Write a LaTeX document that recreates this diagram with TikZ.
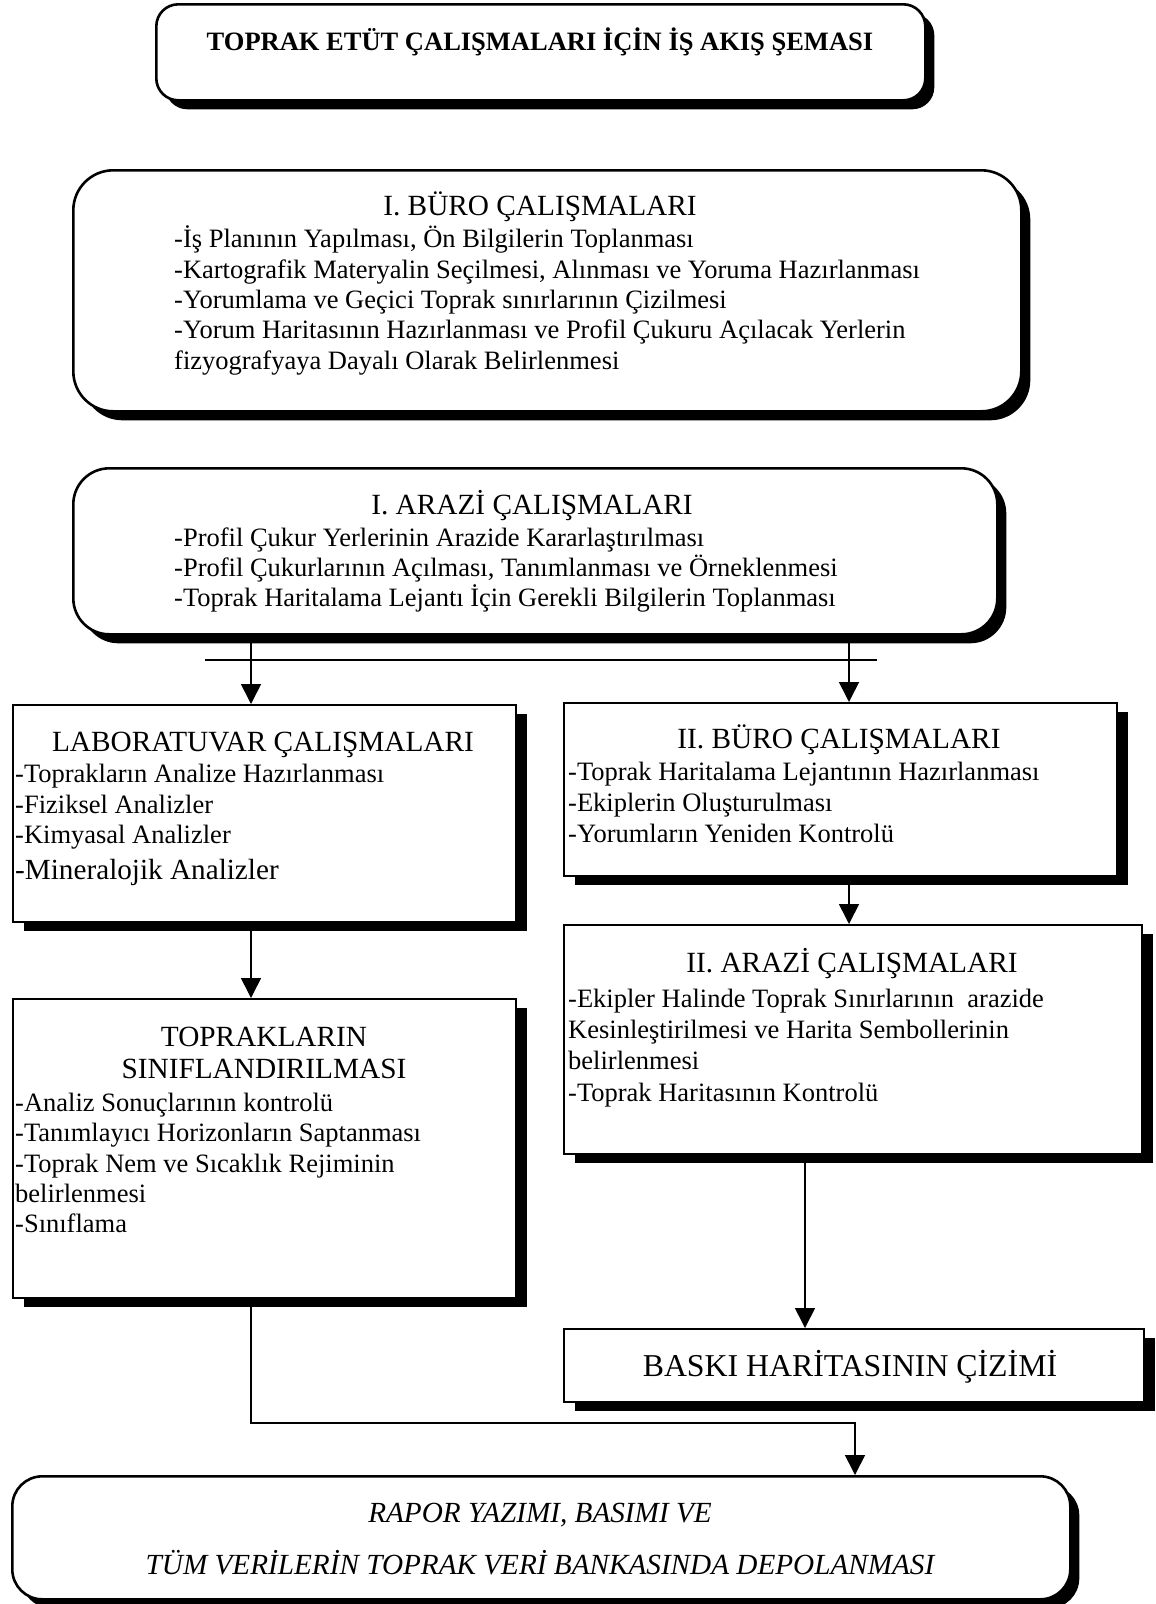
\documentclass[tikz,border=0pt]{standalone}
\usepackage{fontspec}
\setmainfont{Liberation Serif}
\usetikzlibrary{arrows.meta,shadows}
\begin{document}
\begin{tikzpicture}[x=1pt,y=-1pt,
  rbox/.style={draw, line width=2.6pt, fill=white, anchor=north west, inner sep=0pt,
    drop shadow={fill=black, opacity=1, shadow xshift=9pt, shadow yshift=-9pt}},
  sbox/.style={draw, line width=1.8pt, fill=white, anchor=north west, inner sep=0pt,
    drop shadow={fill=black, opacity=1, shadow xshift=11pt, shadow yshift=-9pt}},
  arr/.style={line width=1.6pt, -{Triangle[width=20pt,length=20pt]}},
  conn/.style={line width=1.6pt},
  txt/.style={inner sep=0pt, anchor=base west, font=\fontsize{26.5}{30.5}\selectfont},
  hd/.style={inner sep=0pt, anchor=base, font=\fontsize{29.3}{33}\selectfont},
]
\useasboundingbox (0,0) rectangle (1156,1604);

% boxes
\node[rbox, rounded corners=22pt, minimum width=769pt, minimum height=96pt] (title) at (155,3) {};
\node[rbox, rounded corners=40pt, minimum width=948pt, minimum height=241pt] (buro1) at (72,169) {};
\node[rbox, rounded corners=36pt, minimum width=924pt, minimum height=166pt] (arazi1) at (72,467) {};
\node[sbox, minimum width=503pt, minimum height=217pt] (lab) at (12,704) {};
\node[sbox, minimum width=553pt, minimum height=173pt] (buro2) at (563,702) {};
\node[sbox, minimum width=578pt, minimum height=229pt] (arazi2) at (563,924) {};
\node[sbox, minimum width=503pt, minimum height=299pt] (toprak) at (12,998) {};
\node[sbox, minimum width=580pt, minimum height=73pt] (baski) at (563,1328) {};
\node[rbox, rounded corners=30pt, minimum width=1058pt, minimum height=123pt] (rapor) at (11,1475) {};

% texts
\node[hd, font=\bfseries\fontsize{26.5}{30}\selectfont] (t0) at (540,50) {TOPRAK ETÜT ÇALIŞMALARI İÇİN İŞ AKIŞ ŞEMASI};

\node[hd] (b1h) at (540,215) {I. BÜRO ÇALIŞMALARI};
\node[txt] (b1a) at (174,247) {-İş Planının Yapılması, Ön Bilgilerin Toplanması};
\node[txt] (b1b) at (174,278) {-Kartografik Materyalin Seçilmesi, Alınması ve Yoruma Hazırlanması};
\node[txt] (b1c) at (174,308) {-Yorumlama ve Geçici Toprak sınırlarının Çizilmesi};
\node[txt] (b1d) at (174,338) {-Yorum Haritasının Hazırlanması ve Profil Çukuru Açılacak Yerlerin};
\node[txt] (b1e) at (174,369) {fizyografyaya Dayalı Olarak Belirlenmesi};

\node[hd] (a1h) at (532,514) {I. ARAZİ ÇALIŞMALARI};
\node[txt] (a1a) at (174,546) {-Profil Çukur Yerlerinin Arazide Kararlaştırılması};
\node[txt] (a1b) at (174,576) {-Profil Çukurlarının Açılması, Tanımlanması ve Örneklenmesi};
\node[txt] (a1c) at (174,606) {-Toprak Haritalama Lejantı İçin Gerekli Bilgilerin Toplanması};

\node[hd] (lh) at (263,751) {LABORATUVAR ÇALIŞMALARI};
\node[txt] (la1) at (15,782) {-Toprakların Analize Hazırlanması};
\node[txt] (la2) at (15,813) {-Fiziksel Analizler};
\node[txt] (la3) at (15,843) {-Kimyasal Analizler};
\node[txt, font=\fontsize{29.2}{33}\selectfont] (la4) at (15,879) {-Mineralojik Analizler};

\node[hd] (b2h) at (839,748) {II. BÜRO ÇALIŞMALARI};
\node[txt] (b2a) at (568,780) {-Toprak Haritalama Lejantının Hazırlanması};
\node[txt] (b2b) at (568,811) {-Ekiplerin Oluşturulması};
\node[txt] (b2c) at (568,842) {-Yorumların Yeniden Kontrolü};

\node[hd] (a2h) at (852,972) {II. ARAZİ ÇALIŞMALARI};
\node[txt] (a2a) at (568,1007) {-Ekipler Halinde Toprak Sınırlarının~ arazide};
\node[txt] (a2b) at (568,1038) {Kesinleştirilmesi ve Harita Sembollerinin};
\node[txt] (a2c) at (568,1069) {belirlenmesi};
\node[txt] (a2d) at (568,1101) {-Toprak Haritasının Kontrolü};

\node[hd] (th1) at (264,1046) {TOPRAKLARIN};
\node[hd] (th2) at (264,1078) {SINIFLANDIRILMASI};
\node[txt] (ta1) at (15,1111) {-Analiz Sonuçlarının kontrolü};
\node[txt] (ta2) at (15,1141) {-Tanımlayıcı Horizonların Saptanması};
\node[txt] (ta3) at (15,1172) {-Toprak Nem ve Sıcaklık Rejiminin};
\node[txt] (ta4) at (15,1202) {belirlenmesi};
\node[txt] (ta5) at (15,1232) {-Sınıflama};

\node[hd, font=\fontsize{31.8}{36}\selectfont] (bk) at (850,1376) {BASKI HARİTASININ ÇİZİMİ};

\node[hd, font=\itshape\fontsize{29.2}{33}\selectfont] (r1) at (540,1522) {RAPOR YAZIMI, BASIMI VE};
\node[hd, font=\itshape\fontsize{29.2}{33}\selectfont] (r2) at (540,1574) {TÜM VERİLERİN TOPRAK VERİ BANKASINDA DEPOLANMASI};

% connectors
\coordinate (xa) at (251,0);
\coordinate (xb) at (849,0);
\coordinate (xc) at (805,0);
\coordinate (xd) at (855,0);
\coordinate (hl) at (205,660);
\coordinate (hr) at (877,660);
\coordinate (bend) at (251,1423);
\draw[conn] (hl) -- (hr);
\draw[arr] (arazi1.south -| xa) -- (lab.north -| xa);
\draw[arr] (arazi1.south -| xb) -- (buro2.north -| xb);
\draw[arr] (lab.south -| xa) -- (toprak.north -| xa);
\draw[arr] (buro2.south -| xb) -- (arazi2.north -| xb);
\draw[arr] (arazi2.south -| xc) -- (baski.north -| xc);
\draw[arr] (toprak.south -| xa) -- (bend) -| (rapor.north -| xd);
\end{tikzpicture}
\end{document}
